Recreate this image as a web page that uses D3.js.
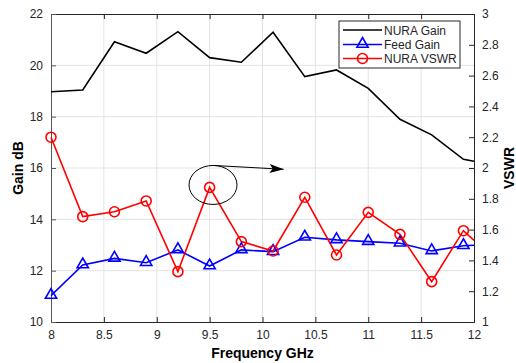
<!DOCTYPE html>
<html><head><meta charset="utf-8">
<script src="https://cdn.jsdelivr.net/npm/d3@7"></script>
<style>body{margin:0;background:#fff}svg{display:block}text{font-family:"Liberation Sans",Arial,sans-serif}</style>
</head><body><svg id="c" width="516" height="363"></svg>
<script>
const freq = [8, 8.3, 8.6, 8.9, 9.2, 9.5, 9.8, 10.1, 10.4, 10.7, 11, 11.3, 11.6, 11.9, 12];
const nuraGain = [18.97, 19.04, 20.92, 20.47, 21.31, 20.30, 20.12, 21.29, 19.56, 19.82, 19.10, 17.90, 17.29, 16.34, 16.26];
const feedGain = [11.03, 12.22, 12.48, 12.31, 12.81, 12.18, 12.81, 12.74, 13.30, 13.20, 13.13, 13.07, 12.77, 12.97, 12.99];
const nuraVSWR = [2.20, 1.684, 1.716, 1.786, 1.327, 1.874, 1.522, 1.461, 1.810, 1.435, 1.712, 1.569, 1.262, 1.593, 1.53];
const markerCount = 14; // markers on first 14 points
const xTicks = [8, 8.5, 9, 9.5, 10, 10.5, 11, 11.5, 12];
const yLeftTicks = [10, 12, 14, 16, 18, 20, 22];
const yRightTicks = [1, 1.2, 1.4, 1.6, 1.8, 2, 2.2, 2.4, 2.6, 2.8, 3];
const legendLabels = ["NURA Gain", "Feed Gain", "NURA VSWR"];
const annot = {cx: 9.532, cy: 15.34, tipX: 10.2, tipY: 15.95};

const svg = d3.select("#c");
const L = 51, R = 474, T = 14, B = 322;
const x = d3.scaleLinear().domain([8, 12]).range([L, R]);
const yL = d3.scaleLinear().domain([10, 22]).range([B, T]);
const yR = d3.scaleLinear().domain([1, 3]).range([B, T]);

// grid
const g = svg.append("g");
g.selectAll(".vg").data(xTicks.slice(1, -1)).enter().append("line")
  .attr("x1", d => x(d)).attr("x2", d => x(d)).attr("y1", T).attr("y2", B)
  .attr("stroke", "#e3e3e3").attr("stroke-width", 1);
g.selectAll(".hg").data(yLeftTicks.slice(1, -1)).enter().append("line")
  .attr("x1", L).attr("x2", R).attr("y1", d => yL(d)).attr("y2", d => yL(d))
  .attr("stroke", "#e3e3e3").attr("stroke-width", 1);

// axes
const ax = svg.append("g").attr("transform", `translate(0,${B})`)
  .call(d3.axisBottom(x).tickValues(xTicks).tickSize(-5).tickPadding(8).tickFormat(d3.format("")));
const axTop = svg.append("g").attr("transform", `translate(0,${T})`)
  .call(d3.axisTop(x).tickValues(xTicks).tickSize(-5).tickFormat(""));
const ayL = svg.append("g").attr("transform", `translate(${L},0)`)
  .call(d3.axisLeft(yL).tickValues(yLeftTicks).tickSize(-5).tickPadding(8));
const ayR = svg.append("g").attr("transform", `translate(${R},0)`)
  .call(d3.axisRight(yR).tickValues(yRightTicks).tickSize(-5).tickPadding(8).tickFormat(d3.format("")));
[ax, axTop, ayL, ayR].forEach(a => {
  a.selectAll("path").attr("stroke", "#262626").attr("stroke-width", 1);
  a.selectAll("line").attr("stroke", "#262626");
  a.selectAll("text").attr("font-size", 12).attr("fill", "#262626");
});
ayL.selectAll("path, line").attr("stroke", "#555");

// lines
const lineL = d3.line().x((d, i) => x(freq[i])).y(d => yL(d));
const lineR = d3.line().x((d, i) => x(freq[i])).y(d => yR(d));

const plot = svg.append("g");
plot.append("path").datum(nuraGain).attr("d", lineL).attr("fill", "none").attr("stroke", "#000").attr("stroke-width", 1.6);
plot.append("path").datum(feedGain).attr("d", lineL).attr("fill", "none").attr("stroke", "#0000ff").attr("stroke-width", 1.6);
plot.append("path").datum(nuraVSWR).attr("d", lineR).attr("fill", "none").attr("stroke", "#ff0000").attr("stroke-width", 1.6);

const tri = d3.symbol().type(d3.symbolTriangle).size(55);
plot.selectAll(".tri").data(feedGain.slice(0, markerCount)).enter().append("path")
  .attr("d", tri).attr("transform", (d, i) => `translate(${x(freq[i])},${yL(d) - 0.5})`)
  .attr("fill", "none").attr("stroke", "#0000ff").attr("stroke-width", 1.6);
plot.selectAll(".cir").data(nuraVSWR.slice(0, markerCount)).enter().append("circle")
  .attr("cx", (d, i) => x(freq[i])).attr("cy", d => yR(d)).attr("r", 5)
  .attr("fill", "none").attr("stroke", "#ff0000").attr("stroke-width", 1.6);

// annotation ellipse + arrow
svg.append("defs").append("marker").attr("id", "ah").attr("viewBox", "0 0 14 10")
  .attr("refX", 14).attr("refY", 5).attr("markerWidth", 14).attr("markerHeight", 10).attr("orient", "auto")
  .attr("markerUnits", "userSpaceOnUse")
  .append("path").attr("d", "M0,0.5 L14,5 L0,9.5 L3,5 Z").attr("fill", "#000");
svg.append("ellipse").attr("cx", x(annot.cx)).attr("cy", yL(annot.cy)).attr("rx", 24).attr("ry", 19.5)
  .attr("fill", "none").attr("stroke", "#000").attr("stroke-width", 1);
svg.append("line").attr("x1", x(annot.cx)).attr("y1", yL(annot.cy) - 19.5)
  .attr("x2", x(annot.tipX) ).attr("y2", yL(annot.tipY))
  .attr("stroke", "#000").attr("stroke-width", 1).attr("marker-end", "url(#ah)");

// axis labels
svg.append("text").attr("transform", `translate(23,${(T + B) / 2}) rotate(-90)`)
  .attr("text-anchor", "middle").attr("font-size", 14).attr("font-weight", "bold").text("Gain dB");
svg.append("text").attr("transform", `translate(514,${(T + B) / 2}) rotate(-90)`)
  .attr("text-anchor", "middle").attr("font-size", 14).attr("font-weight", "bold").text("VSWR");
svg.append("text").attr("x", (L + R) / 2).attr("y", 358)
  .attr("text-anchor", "middle").attr("font-size", 14).attr("font-weight", "bold").text("Frequency GHz");

// legend
const lg = svg.append("g");
lg.append("rect").attr("x", 339).attr("y", 21).attr("width", 121).attr("height", 47)
  .attr("fill", "#fff").attr("stroke", "#262626").attr("stroke-width", 1);
const colors = ["#000", "#0000ff", "#ff0000"];
const rowsY = [30, 44.5, 58.5];
legendLabels.forEach((lab, i) => {
  lg.append("line").attr("x1", 343).attr("x2", 382).attr("y1", rowsY[i]).attr("y2", rowsY[i])
    .attr("stroke", colors[i]).attr("stroke-width", 1.6);
  if (i === 1) lg.append("path").attr("d", tri).attr("transform", `translate(362.5,${rowsY[i] - 0.5})`)
    .attr("fill", "none").attr("stroke", colors[i]).attr("stroke-width", 1.6);
  if (i === 2) lg.append("circle").attr("cx", 362.5).attr("cy", rowsY[i]).attr("r", 5)
    .attr("fill", "none").attr("stroke", colors[i]).attr("stroke-width", 1.6);
  lg.append("text").attr("x", 384).attr("y", rowsY[i] + 4.5).attr("font-size", 12).attr("fill", "#262626").text(lab);
});
</script></body></html>
